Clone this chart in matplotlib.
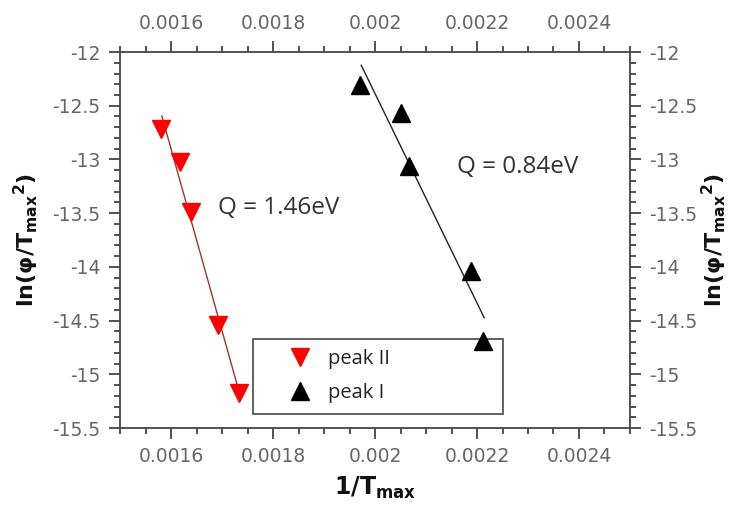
import numpy as np
import matplotlib
matplotlib.use("Agg")
import matplotlib.pyplot as plt
from matplotlib.ticker import MultipleLocator, FuncFormatter

plt.rcParams['font.family'] = ['DejaVu Sans']
plt.rcParams['axes.unicode_minus'] = False

K_B = 8.617e-5  # eV/K

# peak II (red, down triangles)
x2 = [0.001580, 0.001618, 0.001639, 0.001692, 0.001733]
y2 = [-12.72, -13.02, -13.49, -14.54, -15.17]
q2 = 1.46
fit2_x = [0.001582, 0.001731]

# peak I (black, up triangles)
x1 = [0.001970, 0.002051, 0.002066, 0.002188, 0.002211]
y1 = [-12.31, -12.57, -13.06, -14.04, -14.69]
q1 = 0.84
fit1_x = [0.001973, 0.002214]

labels = ['peak II', 'peak I']
q_text = ['Q = 1.46eV', 'Q = 0.84eV']


def fit_line(xs, ys, q, xr):
    # slope fixed by the activation energy, offset from the points
    slope = -q / K_B
    b = np.mean(np.array(ys) - slope * np.array(xs))
    xr = np.array(xr)
    return xr, slope * xr + b


fig = plt.figure(figsize=(7.39, 5.09), dpi=100)
ax = fig.add_axes([0.1624, 0.1591, 0.6901, 0.7387])

lx, ly = fit_line(x2, y2, q2, fit2_x)
ax.plot(lx, ly, color='#a83030', lw=1.0, zorder=3)
lx, ly = fit_line(x1, y1, q1, fit1_x)
ax.plot(lx, ly, color='#222222', lw=1.0, zorder=3)

ax.plot(x2, y2, 'v', color='red', ms=13, mec='red', ls='none', label=labels[0], zorder=4)
ax.plot(x1, y1, '^', color='black', ms=13, ls='none', label=labels[1], zorder=4)

qfont = dict(fontsize=17.5, color='#333333', va='center', ha='left', family='Open Sans')
ax.text(0.001692, -13.45, q_text[0], **qfont)
ax.text(0.002161, -13.07, q_text[1], **qfont)

ax.set_xlim(0.0015, 0.0025)
ax.set_ylim(-15.5, -12)

ax.xaxis.set_major_locator(MultipleLocator(0.0002))
ax.xaxis.set_minor_locator(MultipleLocator(0.00005))
ax.yaxis.set_major_locator(MultipleLocator(0.5))
ax.yaxis.set_minor_locator(MultipleLocator(0.1))
ax.xaxis.set_major_formatter(FuncFormatter(lambda v, p: '%g' % round(v, 6)))
ax.yaxis.set_major_formatter(FuncFormatter(lambda v, p: '%g' % round(v, 3)))

ax.tick_params(which='both', direction='out', top=True, right=True,
               labeltop=True, labelright=True, color='#444444',
               labelcolor='#666666', labelsize=13.5, width=1.3)
ax.tick_params(which='major', length=8, pad=6)
ax.tick_params(which='minor', length=4.5)
for s in ax.spines.values():
    s.set_color('#444444')
    s.set_linewidth(1.3)

ylab = r'ln($\mathbf{\varphi}$/T$_{\mathbf{max}}$$^{\mathbf{2}}$)'
ax.set_xlabel(r'1/T$_{\mathbf{max}}$', fontsize=17, fontweight='bold', color='#111111', labelpad=6)
ax.set_ylabel(ylab, fontsize=16, fontweight='bold', color='#111111', labelpad=8)
yr = ax.secondary_yaxis('right')
yr.set_yticks([])
yr.set_ylabel(ylab, fontsize=16, fontweight='bold', color='#111111', labelpad=50, rotation=90)
yr.spines['right'].set_visible(False)

leg = ax.legend(loc='upper left', bbox_to_anchor=(0.261, 0.237, 0.49, 0.0),
                mode='expand', borderaxespad=0, fancybox=False, framealpha=1,
                edgecolor='#555555', prop={'family': 'Open Sans', 'size': 14.5},
                borderpad=0.5, labelspacing=0.72,
                handlelength=3.68, handletextpad=-0.45)
leg.get_frame().set_linewidth(1.3)
leg.set_zorder(2)
for t in leg.get_texts():
    t.set_color('#222222')

fig.savefig('out.png', dpi=100)
